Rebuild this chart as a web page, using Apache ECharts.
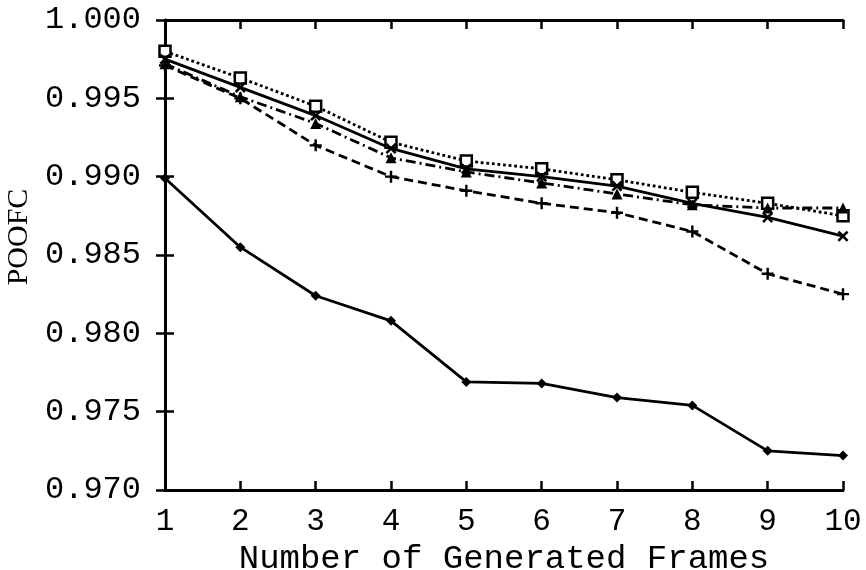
<!DOCTYPE html>
<html>
<head>
<meta charset="utf-8">
<script src="https://cdn.jsdelivr.net/npm/echarts@6/dist/echarts.min.js"></script>
<style>
  html, body { margin: 0; padding: 0; background: #fff; }
  #chart { width: 866px; height: 570px; }
</style>
</head>
<body>
<div id="chart"></div>
<script>
// Chart data
const frames = ['1', '2', '3', '4', '5', '6', '7', '8', '9', '10'];
const yTicks = [0.970, 0.975, 0.980, 0.985, 0.990, 0.995, 1.000];

const squareDotted = [0.9980, 0.9963, 0.9945, 0.9922, 0.9910, 0.9905, 0.9898, 0.9890, 0.9883, 0.9875];
const crossSolid = [0.9975, 0.9957, 0.9939, 0.9918, 0.9905, 0.9900, 0.9894, 0.9883, 0.9874, 0.9862];
const triangleDashDot = [0.9972, 0.9951, 0.9934, 0.9912, 0.9903, 0.9896, 0.9889, 0.9882, 0.9880, 0.9880];
const plusDashed = [0.9971, 0.9950, 0.9920, 0.9900, 0.9891, 0.9883, 0.9877, 0.9865, 0.9838, 0.9825];
const diamondSolid = [0.9899, 0.9855, 0.9824, 0.9808, 0.9769, 0.9768, 0.9759, 0.9754, 0.9725, 0.9722];

const FONT = '"Liberation Mono", "DejaVu Sans Mono", monospace';
const PLUS = 'path://M4,0H6V4H10V6H6V10H4V6H0V4H4Z';

const chart = echarts.init(document.getElementById('chart'));

function makeSeries(data, lineType, symbol, size, fill, rotate) {
    return {
        type: 'line',
        data: data.map((v, i) => [i, v]),
        xAxisIndex: 0,
        yAxisIndex: 0,
        symbol: symbol,
        symbolSize: size,
        symbolRotate: rotate || 0,
        showAllSymbol: true,
        lineStyle: { color: '#000', width: 2.8, type: lineType },
        itemStyle: { color: fill, borderColor: '#000', borderWidth: fill === '#fff' ? 2.5 : 0 },
        emphasis: { disabled: true },
        animation: false,
        z: 3
    };
}

const axisLineStyle = { color: '#000', width: 3 };
const tickStyle = { inside: true, length: 9, lineStyle: { color: '#000', width: 2.5 } };

const option = {
    backgroundColor: '#fff',
    grid: { left: 165, right: 23, top: 20, bottom: 80, outerBoundsMode: 'none', containLabel: false },
    xAxis: [
        {
            type: 'value',
            min: 0,
            max: 9,
            interval: 1,
            position: 'bottom',
            name: 'Number of Generated Frames',
            nameLocation: 'middle',
            nameGap: 42,
            nameTextStyle: { fontFamily: FONT, fontSize: 34, color: '#000' },
            axisLine: { lineStyle: axisLineStyle },
            axisTick: tickStyle,
            axisLabel: {
                fontFamily: FONT, fontSize: 31, color: '#000', margin: 16,
                formatter: v => frames[v]
            },
            splitLine: { show: false }
        },
        {
            type: 'value',
            min: 0,
            max: 9,
            interval: 1,
            position: 'top',
            axisLine: { lineStyle: axisLineStyle },
            axisTick: tickStyle,
            axisLabel: { show: false },
            splitLine: { show: false }
        }
    ],
    yAxis: [
        {
            type: 'value',
            min: yTicks[0],
            max: yTicks[yTicks.length - 1],
            interval: 0.005,
            position: 'left',
            name: 'POOFC',
            nameLocation: 'middle',
            nameGap: 128,
            nameRotate: 90,
            nameTextStyle: {
                fontFamily: '"Liberation Serif", serif', fontSize: 30, color: '#000',
                padding: [0, 0, 0, 36]
            },
            axisLine: { lineStyle: axisLineStyle },
            axisTick: tickStyle,
            axisLabel: {
                fontFamily: FONT, fontSize: 32, color: '#000', margin: 24,
                formatter: v => v.toFixed(3)
            },
            splitLine: { show: false }
        },
        {
            type: 'value',
            min: yTicks[0],
            max: yTicks[yTicks.length - 1],
            interval: 0.005,
            position: 'right',
            axisLine: { lineStyle: axisLineStyle },
            axisTick: tickStyle,
            axisLabel: { show: false },
            splitLine: { show: false }
        }
    ],
    series: [
        makeSeries(squareDotted, 'dotted', 'rect', 11, '#fff'),
        makeSeries(crossSolid, 'solid', PLUS, 13, '#000', 45),
        makeSeries(triangleDashDot, [10, 4, 2, 4], 'triangle', 11, '#000'),
        makeSeries(plusDashed, [9, 5], PLUS, 12, '#000'),
        makeSeries(diamondSolid, 'solid', 'diamond', 10, '#000')
    ]
};

chart.setOption(option);

window.addEventListener('resize', () => chart.resize());
</script>
</body>
</html>
